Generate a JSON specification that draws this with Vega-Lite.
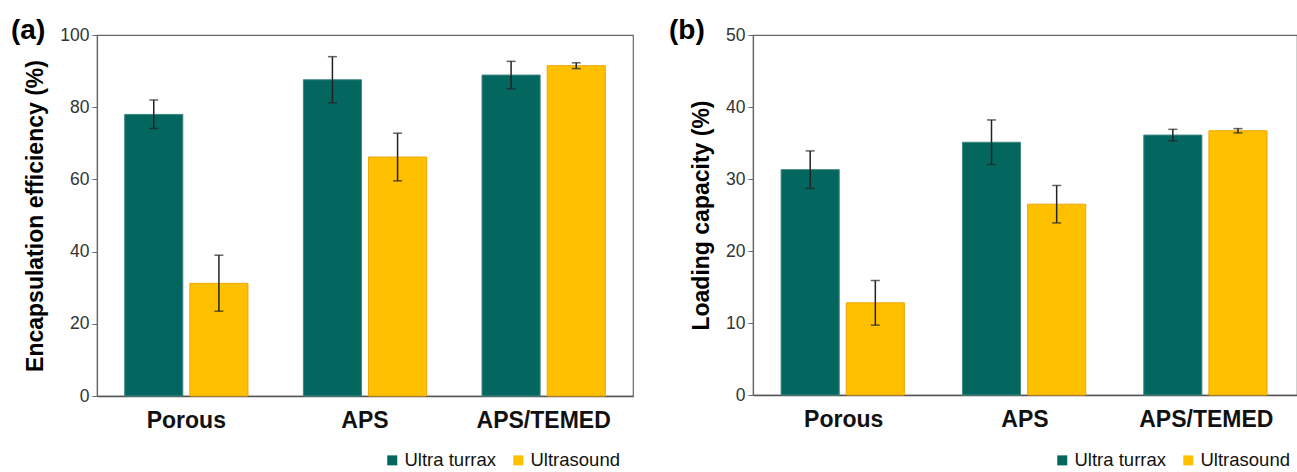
{
  "$schema": "https://vega.github.io/schema/vega-lite/v6.json",
  "padding": {"left": 10, "top": 16, "right": 0, "bottom": 0},
  "config": {
    "font": "Liberation Sans",
    "view": {"stroke": "#666", "strokeWidth": 1.2},
    "axisY": {"domainColor": "#666", "tickColor": "#666", "tickSize": 5, "labelFontSize": 17.5, "labelColor": "#333", "titleFontSize": 23, "titleFontWeight": "bold", "titleColor": "#000", "grid": false, "labelPadding": 3, "titlePadding": 12, "domainWidth": 1.2},
    "axisX": {"domainColor": "#555", "domainWidth": 1.5, "ticks": false, "labelFontSize": 23, "labelFontWeight": "bold", "labelColor": "#111", "labelPadding": 13, "labelAngle": 0, "title": null, "grid": false},
    "title": {"fontSize": 28, "fontWeight": "bold", "color": "#000", "anchor": "start", "frame": "group", "offset": 0, "baseline": "alphabetic"},
    "legend": {"orient": "none", "direction": "horizontal", "symbolType": "square", "symbolSize": 100, "labelFontSize": 18.5, "labelColor": "#111", "columnPadding": 13, "labelOffset": 3, "title": null, "legendY": 416}
  },
  "datasets": {
    "a": [
      {"cat": "Porous", "series": "Ultra turrax", "v": 78.0, "lo": 74.1, "hi": 82.0},
      {"cat": "Porous", "series": "Ultrasound", "v": 31.2, "lo": 23.5, "hi": 39.0},
      {"cat": "APS", "series": "Ultra turrax", "v": 87.6, "lo": 81.2, "hi": 94.0},
      {"cat": "APS", "series": "Ultrasound", "v": 66.2, "lo": 59.6, "hi": 72.8},
      {"cat": "APS/TEMED", "series": "Ultra turrax", "v": 88.9, "lo": 85.1, "hi": 92.7},
      {"cat": "APS/TEMED", "series": "Ultrasound", "v": 91.5, "lo": 90.7, "hi": 92.3}
    ],
    "b": [
      {"cat": "Porous", "series": "Ultra turrax", "v": 31.3, "lo": 28.7, "hi": 33.9},
      {"cat": "Porous", "series": "Ultrasound", "v": 12.8, "lo": 9.7, "hi": 15.9},
      {"cat": "APS", "series": "Ultra turrax", "v": 35.1, "lo": 32.0, "hi": 38.2},
      {"cat": "APS", "series": "Ultrasound", "v": 26.5, "lo": 23.9, "hi": 29.1},
      {"cat": "APS/TEMED", "series": "Ultra turrax", "v": 36.1, "lo": 35.3, "hi": 36.9},
      {"cat": "APS/TEMED", "series": "Ultrasound", "v": 36.7, "lo": 36.4, "hi": 37.0}
    ]
  },
  "bounds": "flush",
  "spacing": 120,
  "resolve": {"scale": {"color": "independent"}, "legend": {"color": "independent"}},
  "hconcat": [
    {
      "width": 536,
      "height": 361,
      "title": {"text": "(a)", "dx": -86, "dy": 23},
      "data": {"name": "a"},
      "encoding": {
        "x": {"field": "cat", "type": "nominal", "sort": ["Porous", "APS", "APS/TEMED"], "scale": {"paddingInner": 0.31, "paddingOuter": 0.155}},
        "xOffset": {"field": "series", "type": "nominal", "sort": ["Ultra turrax", "Ultrasound"], "scale": {"paddingInner": 0.108, "paddingOuter": 0}}
      },
      "layer": [
        {
          "mark": {"type": "bar"},
          "encoding": {
            "y": {"field": "v", "type": "quantitative", "title": "Encapsulation efficiency (%)", "scale": {"domain": [0, 100], "nice": false}, "axis": {"values": [0, 10, 20, 30, 40, 50, 60, 70, 80, 90, 100], "labelExpr": "datum.value % 20 == 0 ? datum.label : ''"}},
            "color": {"field": "series", "type": "nominal", "scale": {"domain": ["Ultra turrax", "Ultrasound"], "range": ["#03665F", "#FFC000"]}, "legend": {"legendX": 286}},
            "stroke": {"field": "series", "type": "nominal", "scale": {"domain": ["Ultra turrax", "Ultrasound"], "range": ["#3F8783", "#F2A500"]}, "legend": null}
          }
        },
        {
          "mark": {"type": "rule", "color": "#222", "strokeWidth": 1.5},
          "encoding": {"y": {"field": "lo", "type": "quantitative"}, "y2": {"field": "hi"}}
        },
        {
          "mark": {"type": "tick", "color": "#222", "thickness": 1.5, "size": 9, "orient": "horizontal"},
          "encoding": {"y": {"field": "lo", "type": "quantitative"}}
        },
        {
          "mark": {"type": "tick", "color": "#222", "thickness": 1.5, "size": 9, "orient": "horizontal"},
          "encoding": {"y": {"field": "hi", "type": "quantitative"}}
        }
      ]
    },
    {
      "width": 544,
      "height": 360,
      "title": {"text": "(b)", "dx": -84, "dy": 23},
      "data": {"name": "b"},
      "encoding": {
        "x": {"field": "cat", "type": "nominal", "sort": ["Porous", "APS", "APS/TEMED"], "scale": {"paddingInner": 0.31, "paddingOuter": 0.155}},
        "xOffset": {"field": "series", "type": "nominal", "sort": ["Ultra turrax", "Ultrasound"], "scale": {"paddingInner": 0.108, "paddingOuter": 0}}
      },
      "layer": [
        {
          "mark": {"type": "bar"},
          "encoding": {
            "y": {"field": "v", "type": "quantitative", "title": "Loading capacity (%)", "scale": {"domain": [0, 50], "nice": false}, "axis": {"values": [0, 5, 10, 15, 20, 25, 30, 35, 40, 45, 50], "labelExpr": "datum.value % 10 == 0 ? datum.label : ''"}},
            "color": {"field": "series", "type": "nominal", "scale": {"domain": ["Ultra turrax", "Ultrasound"], "range": ["#03665F", "#FFC000"]}, "legend": {"legendX": 300}},
            "stroke": {"field": "series", "type": "nominal", "scale": {"domain": ["Ultra turrax", "Ultrasound"], "range": ["#3F8783", "#F2A500"]}, "legend": null}
          }
        },
        {
          "mark": {"type": "rule", "color": "#222", "strokeWidth": 1.5},
          "encoding": {"y": {"field": "lo", "type": "quantitative"}, "y2": {"field": "hi"}}
        },
        {
          "mark": {"type": "tick", "color": "#222", "thickness": 1.5, "size": 9, "orient": "horizontal"},
          "encoding": {"y": {"field": "lo", "type": "quantitative"}}
        },
        {
          "mark": {"type": "tick", "color": "#222", "thickness": 1.5, "size": 9, "orient": "horizontal"},
          "encoding": {"y": {"field": "hi", "type": "quantitative"}}
        }
      ]
    }
  ]
}
